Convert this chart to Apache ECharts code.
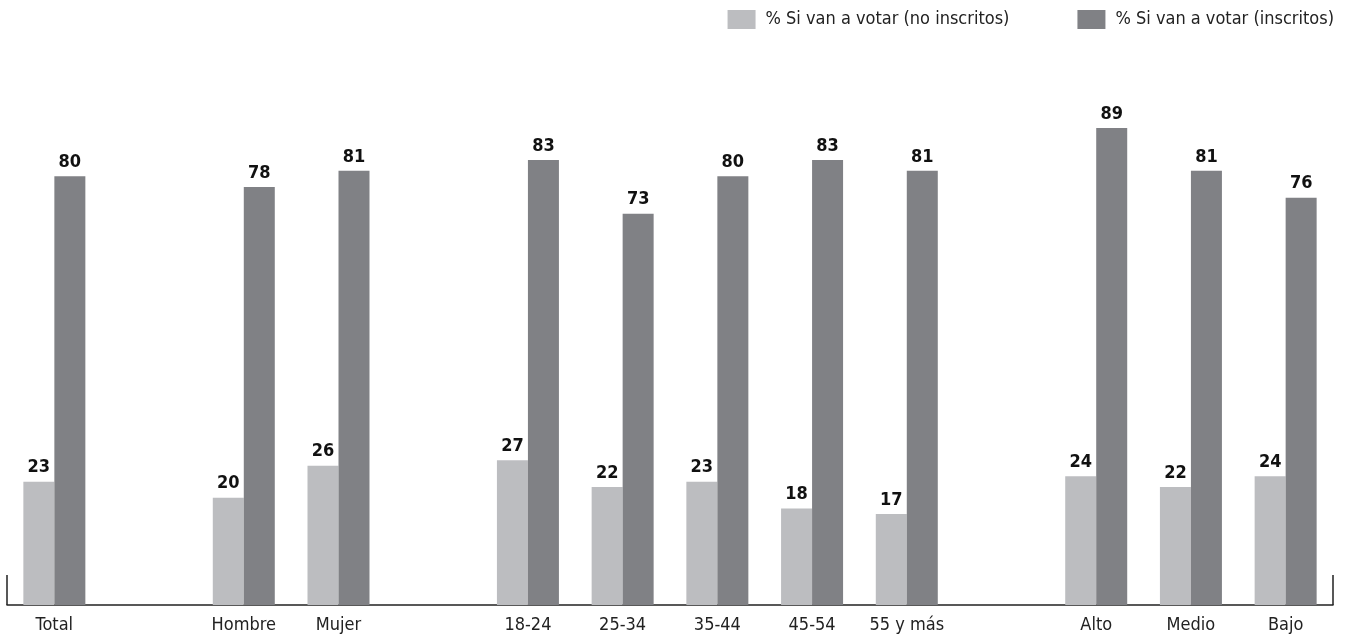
<!DOCTYPE html>
<html>
<head>
<meta charset="utf-8">
<style>
  html, body { margin: 0; padding: 0; background: #ffffff; }
  #chart { width: 1348px; height: 637px; }
</style>
<script src="https://cdn.jsdelivr.net/npm/echarts@6/dist/echarts.min.js"></script>
</head>
<body>
<div id="chart"></div>
<script>
var categories = ['Total', '', 'Hombre', 'Mujer', '', '18-24', '25-34', '35-44', '45-54', '55 y más', '', 'Alto', 'Medio', 'Bajo'];
var noInscritos = [23, null, 20, 26, null, 27, 22, 23, 18, 17, null, 24, 22, 24];
var inscritos = [80, null, 78, 81, null, 83, 73, 80, 83, 81, null, 89, 81, 76];
var seriesNames = ['% Si van a votar (no inscritos)', '% Si van a votar (inscritos)'];

var FONT = '"Liberation Sans Narrow", "DejaVu Sans Condensed", sans-serif';
var chart = echarts.init(document.getElementById('chart'), null, { renderer: 'canvas' });

var labelStyle = {
  show: true,
  position: 'top',
  distance: 5,
  fontFamily: FONT,
  fontWeight: 'bold',
  fontSize: 18,
  color: '#111111'
};

chart.setOption({
  animation: false,
  backgroundColor: '#ffffff',
  legend: {
    top: 5,
    right: 9,
    itemWidth: 28,
    itemHeight: 19,
    itemGap: 68,
    icon: 'rect',
    textStyle: { fontFamily: FONT, fontSize: 18, color: '#222222', padding: [0, 0, 0, 5] },
    data: seriesNames
  },
  grid: { left: 7, right: 15, top: 69, bottom: 32, containLabel: false },
  xAxis: {
    type: 'category',
    data: categories,
    boundaryGap: true,
    axisLine: { show: true, lineStyle: { color: '#222222', width: 1.5 } },
    axisTick: {
      show: true,
      inside: true,
      length: 30,
      interval: function (i) { return i === 0; },
      lineStyle: { color: '#222222', width: 1.5 }
    },
    axisLabel: {
      interval: 0,
      margin: 11,
      fontFamily: FONT,
      fontSize: 18,
      color: '#222222'
    }
  },
  yAxis: {
    type: 'value',
    min: 0,
    max: 100,
    show: false,
    splitLine: { show: false }
  },
  series: [
    {
      name: seriesNames[0],
      type: 'bar',
      data: noInscritos,
      barWidth: 31,
      barGap: '0%',
      itemStyle: { color: '#bcbdc0' },
      label: labelStyle
    },
    {
      name: seriesNames[1],
      type: 'bar',
      data: inscritos,
      barWidth: 31,
      barGap: '0%',
      itemStyle: { color: '#808185' },
      label: labelStyle
    }
  ]
});
</script>
</body>
</html>
